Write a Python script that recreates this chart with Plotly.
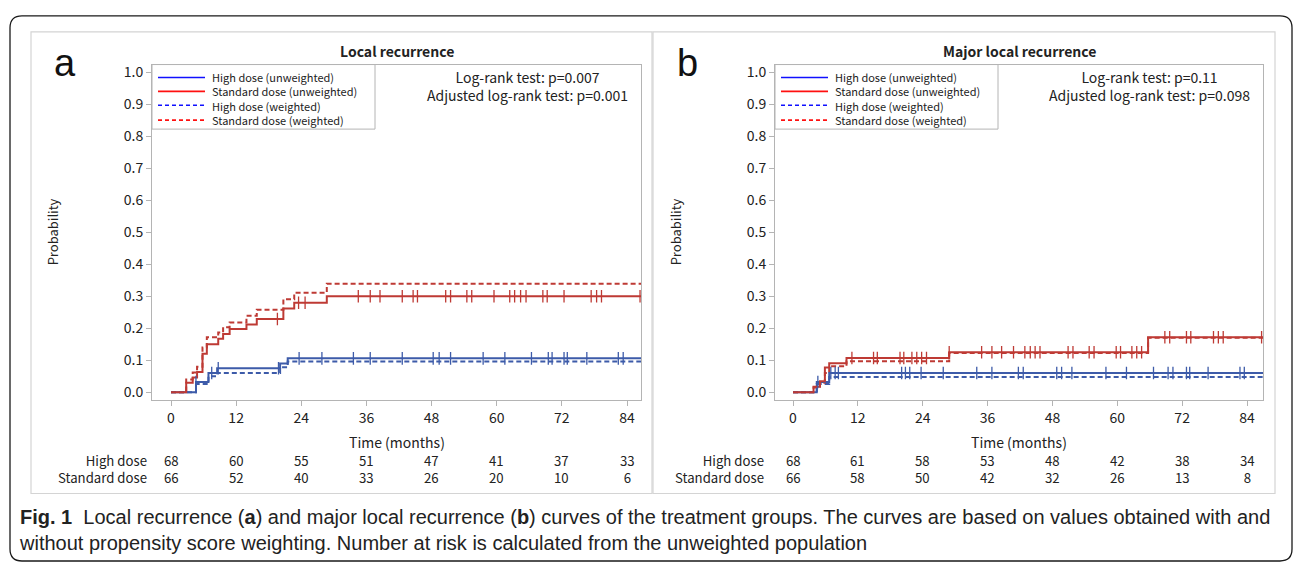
import numpy as np
import plotly.graph_objects as go

W, H = 1295, 565

# ---------------- data ----------------
# Panel a: Local recurrence
a_hd_unw_t = [0, 4.6, 6.9, 8.5, 20.1, 21.5, 86.6]
a_hd_unw_p = [0, 0.032, 0.060, 0.075, 0.090, 0.106, 0.106]
a_hd_w_t = [0, 4.6, 6.9, 8.5, 20.1, 21.5, 86.6]
a_hd_w_p = [0, 0.026, 0.050, 0.060, 0.078, 0.096, 0.096]
a_sd_unw_t = [0, 2.8, 4.0, 4.8, 5.8, 6.6, 8.7, 9.6, 10.8, 13.9, 15.8, 20.7, 22.7, 28.7, 86.6]
a_sd_unw_p = [0, 0.030, 0.046, 0.063, 0.120, 0.150, 0.167, 0.182, 0.198, 0.212, 0.229, 0.262, 0.280, 0.300, 0.300]
a_sd_w_t = [0, 2.8, 4.0, 4.8, 5.8, 6.6, 8.7, 9.6, 10.8, 13.9, 15.8, 20.7, 22.7, 28.7, 86.6]
a_sd_w_p = [0, 0.040, 0.062, 0.080, 0.140, 0.172, 0.187, 0.203, 0.218, 0.239, 0.258, 0.291, 0.311, 0.339, 0.339]
a_hd_cens = [4.6, 7.5, 8.7, 19.8, 23.6, 27.8, 33.6, 36.7, 42.6, 48.3, 49.4, 51.5, 57.5, 61.5,
             66.4, 69.5, 70.2, 72.4, 73.0, 76.6, 82.4, 83.3]
a_sd_cens = [19.6, 23.5, 24.7, 34.5, 36.7, 38.5, 42.6, 44.6, 45.4, 50.6, 51.5, 54.5, 55.4, 59.5,
             62.4, 63.3, 64.4, 65.4, 68.5, 69.3, 72.4, 77.4, 78.4, 79.3, 86.4]

# Panel b: Major local recurrence
b_hd_unw_t = [0, 4.4, 6.7, 87.0]
b_hd_unw_p = [0, 0.032, 0.060, 0.060]
b_hd_w_t = [0, 4.4, 6.7, 87.0]
b_hd_w_p = [0, 0.026, 0.048, 0.048]
b_sd_unw_t = [0, 3.8, 5.0, 5.9, 6.7, 9.9, 28.9, 65.7, 87.0]
b_sd_unw_p = [0, 0.017, 0.034, 0.077, 0.091, 0.107, 0.125, 0.172, 0.172]
b_sd_w_t = [0, 3.8, 5.0, 5.9, 6.7, 9.9, 28.9, 65.7, 87.0]
b_sd_w_p = [0, 0.015, 0.030, 0.060, 0.081, 0.097, 0.123, 0.170, 0.170]
b_hd_cens = [4.6, 7.0, 7.8, 8.4, 20.1, 20.8, 21.6, 23.7, 27.8, 34.0, 36.8, 41.7, 42.6, 48.8, 49.7,
             51.6, 57.9, 61.7, 66.7, 69.4, 70.3, 72.8, 73.4, 76.8, 82.7, 83.5]
b_sd_cens = [10.9, 14.9, 15.6, 19.8, 20.5, 22.0, 22.9, 23.8, 24.7, 28.9, 34.9, 36.8, 38.6, 40.8,
             42.9, 43.9, 44.8, 45.7, 50.9, 51.8, 54.8, 55.7, 59.8, 60.6, 62.7, 63.6, 64.5, 68.8,
             69.7, 72.8, 73.6, 77.8, 78.7, 79.6, 86.7]

time_ticks = [0, 12, 24, 36, 48, 60, 72, 84]
a_risk_hd = [68, 60, 55, 51, 47, 41, 37, 33]
a_risk_sd = [66, 52, 40, 33, 26, 20, 10, 6]
b_risk_hd = [68, 61, 58, 53, 48, 42, 38, 34]
b_risk_sd = [66, 58, 50, 42, 32, 26, 13, 8]

legend_labels = ["High dose (unweighted)", "Standard dose (unweighted)",
                 "High dose (weighted)", "Standard dose (weighted)"]
titles = ["Local recurrence", "Major local recurrence"]
logrank = [["Log-rank test: p=0.007", "Adjusted log-rank test: p=0.001"],
           ["Log-rank test: p=0.11", "Adjusted log-rank test: p=0.098"]]
risk_labels = ["High dose", "Standard dose"]

# ---------------- styling ----------------
RED = "#BE3A34"
BLUE = "#3D5BA9"
LEG_RED = "#FF1010"
LEG_BLUE = "#1010FF"
FONT = "Noto Sans CJK JP, Noto Sans, sans-serif"
CAPFONT = "Liberation Sans, Arial, sans-serif"
GRAY = "#B4B4B4"
TXT = "#222222"


def px(x):
    return x / W


def py(y):
    return 1 - y / H


def step_at(ts, ps, t):
    ts = np.asarray(ts)
    ps = np.asarray(ps)
    i = np.searchsorted(ts, t, side="right") - 1
    return ps[np.clip(i, 0, len(ps) - 1)]


fig = go.Figure()

panels = [
    dict(xa="x", ya="y", hd_u=(a_hd_unw_t, a_hd_unw_p), hd_w=(a_hd_w_t, a_hd_w_p),
         sd_u=(a_sd_unw_t, a_sd_unw_p), sd_w=(a_sd_w_t, a_sd_w_p),
         hc=a_hd_cens, sc=a_sd_cens, rh=a_risk_hd, rs=a_risk_sd,
         frame=(152, 641), box=(31, 652), label="a", labx=65,
         riskx=149, ptitle=titles[0], lr=logrank[0], lrx=527),
    dict(xa="x2", ya="y2", hd_u=(b_hd_unw_t, b_hd_unw_p), hd_w=(b_hd_w_t, b_hd_w_p),
         sd_u=(b_sd_unw_t, b_sd_unw_p), sd_w=(b_sd_w_t, b_sd_w_p),
         hc=b_hd_cens, sc=b_sd_cens, rh=b_risk_hd, rs=b_risk_sd,
         frame=(775, 1263), box=(653, 1275), label="b", labx=687,
         riskx=766, ptitle=titles[1], lr=logrank[1], lrx=1149.5),
]

shapes = []
annotations = []

# outer rounded frame
x0, y0, x1, y1, r = 10, 13, 1292, 562, 12
path = (f"M {px(x0 + r)} {py(y0)} L {px(x1 - r)} {py(y0)} "
        f"Q {px(x1)} {py(y0)} {px(x1)} {py(y0 + r)} L {px(x1)} {py(y1 - r)} "
        f"Q {px(x1)} {py(y1)} {px(x1 - r)} {py(y1)} L {px(x0 + r)} {py(y1)} "
        f"Q {px(x0)} {py(y1)} {px(x0)} {py(y1 - r)} L {px(x0)} {py(y0 + r)} "
        f"Q {px(x0)} {py(y0)} {px(x0 + r)} {py(y0)} Z")
shapes.append(dict(type="path", xref="paper", yref="paper", path=path,
                   line=dict(color="#1a1a1a", width=1.3), layer="below"))

for k, p in enumerate(panels):
    xa, ya = p["xa"], p["ya"]
    # weighted (dashed) first
    for (t, v), col in [(p["hd_w"], BLUE), (p["sd_w"], RED)]:
        fig.add_trace(go.Scatter(x=t, y=v, mode="lines", line=dict(color=col, width=2, dash="5px,3px", shape="hv"),
                                 xaxis=xa, yaxis=ya, showlegend=False, hoverinfo="skip"))
    for (t, v), col in [(p["hd_u"], BLUE), (p["sd_u"], RED)]:
        fig.add_trace(go.Scatter(x=t, y=v, mode="lines", line=dict(color=col, width=2, shape="hv"),
                                 xaxis=xa, yaxis=ya, showlegend=False, hoverinfo="skip"))
    # censor ticks
    for cens, (t, v), col in [(p["hc"], p["hd_u"], BLUE), (p["sc"], p["sd_u"], RED)]:
        fig.add_trace(go.Scatter(x=cens, y=step_at(t, v, np.asarray(cens)), mode="markers",
                                 marker=dict(symbol="line-ns", size=9, line=dict(color=col, width=1.3)),
                                 xaxis=xa, yaxis=ya, showlegend=False, hoverinfo="skip"))

    # panel box
    shapes.append(dict(type="rect", xref="paper", yref="paper", x0=px(p["box"][0]), x1=px(p["box"][1]),
                       y0=py(494), y1=py(29), line=dict(color="#D4D4D4", width=1.2), layer="below"))
    # manual legend box
    lf = p["frame"][0]
    shapes.append(dict(type="rect", xref="paper", yref="paper", x0=px(lf), x1=px(lf + 223),
                       y0=py(127), y1=py(62), line=dict(color=GRAY, width=1)))
    rows = [75, 89, 103, 118]
    styles = [(LEG_BLUE, "solid"), (LEG_RED, "solid"), (LEG_BLUE, "dash"), (LEG_RED, "dash")]
    for yy, (c, d) in zip(rows, styles):
        shapes.append(dict(type="line", xref="paper", yref="paper", x0=px(lf + 6), x1=px(lf + 53),
                           y0=py(yy), y1=py(yy), line=dict(color=c, width=1.6, dash="4px,3px" if d == "dash" else "solid")))
    annotations.append(dict(text="<br>".join(legend_labels), xref="paper", yref="paper", x=px(lf + 58),
                            y=py(96.5), xanchor="left", yanchor="middle", align="left", showarrow=False,
                            font=dict(family=FONT, size=11, color=TXT)))
    # title
    annotations.append(dict(text="<b>" + p["ptitle"] + "</b>", xref="paper", yref="paper",
                            x=px((p["frame"][0] + p["frame"][1]) / 2), y=py(48), xanchor="center",
                            yanchor="middle", showarrow=False, font=dict(family=FONT, size=14, color=TXT)))
    # log-rank texts
    annotations.append(dict(text="<br>".join(p["lr"]), xref="paper", yref="paper", x=px(p["lrx"]), y=py(84),
                            xanchor="center", yanchor="middle", align="center", showarrow=False,
                            font=dict(family=FONT, size=14, color=TXT)))
    # panel letter
    annotations.append(dict(text=p["label"], xref="paper", yref="paper", x=px(p["labx"]), y=py(60),
                            xanchor="center", yanchor="middle", showarrow=False,
                            font=dict(family="Liberation Sans, Arial, sans-serif", size=38, color="#111")))
    # axis titles
    annotations.append(dict(text="Probability", xref="paper", yref="paper", x=px(p["frame"][0] - 100),
                            y=py(231), textangle=-90, xanchor="center", yanchor="middle", showarrow=False,
                            font=dict(family=FONT, size=13, color=TXT)))
    annotations.append(dict(text="Time (months)", xref="paper", yref="paper",
                            x=px((p["frame"][0] + p["frame"][1]) / 2), y=py(442), xanchor="center",
                            yanchor="middle", showarrow=False, font=dict(family=FONT, size=14, color=TXT)))
    # number at risk (two rows per column as one text block)
    annotations.append(dict(text="<br>".join(risk_labels), xref="paper", yref="paper", x=px(p["riskx"]),
                            y=py(469.5), xanchor="right", yanchor="middle", align="right", showarrow=False,
                            font=dict(family=FONT, size=13.2, color=TXT)))
    for tt, vh, vs in zip(time_ticks, p["rh"], p["rs"]):
        annotations.append(dict(text=f"{vh}<br>{vs}", xref=xa, yref="paper", x=tt, y=py(469.5),
                                xanchor="center", yanchor="middle", align="center", showarrow=False,
                                font=dict(family=FONT, size=13.2, color=TXT)))

# caption
caption = ["<b>Fig. 1</b>  Local recurrence (<b>a</b>) and major local recurrence (<b>b</b>) curves of the treatment groups. The curves are based on values obtained with and",
           "without propensity score weighting. Number at risk is calculated from the unweighted population"]
annotations.append(dict(text="<br>".join(caption), xref="paper", yref="paper", x=px(17), y=py(531),
                        xanchor="left", yanchor="middle", align="left", showarrow=False,
                        font=dict(family=CAPFONT, size=20, color=TXT)))

ydom = [py(400), py(62)]
yrange = [-8 / 322, 1 + 8 / 322]
common_y = dict(range=yrange, domain=ydom, tickvals=[i / 10 for i in range(11)], tickformat=".1f",
                ticks="outside", ticklen=5, tickcolor=GRAY, showline=True, linecolor=GRAY, mirror=True,
                showgrid=False, zeroline=False, tickfont=dict(family=FONT, size=14, color=TXT))
common_x = dict(tickvals=time_ticks, ticks="outside", ticklen=5, tickcolor=GRAY, showline=True,
                linecolor=GRAY, mirror=True, showgrid=False, zeroline=False,
                tickfont=dict(family=FONT, size=14, color=TXT))

sa = (627 - 171) / 84
sb = (1247 - 793) / 84
fig.update_layout(
    width=W, height=H, autosize=False, margin=dict(l=0, r=0, t=0, b=0),
    paper_bgcolor="white", plot_bgcolor="white", showlegend=False,
    xaxis=dict(domain=[px(152), px(641)], range=[-19 / sa, 84 + 14 / sa], anchor="y", **common_x),
    yaxis=dict(anchor="x", **common_y),
    xaxis2=dict(domain=[px(775), px(1263)], range=[-18 / sb, 84 + 16 / sb], anchor="y2", **common_x),
    yaxis2=dict(anchor="x2", **common_y),
    shapes=shapes, annotations=annotations,
)

fig.write_html("out.html", config={"displayModeBar": False},
               post_script="document.body.style.margin='0';document.body.style.padding='0';"
                           "document.body.style.overflow='hidden';")
